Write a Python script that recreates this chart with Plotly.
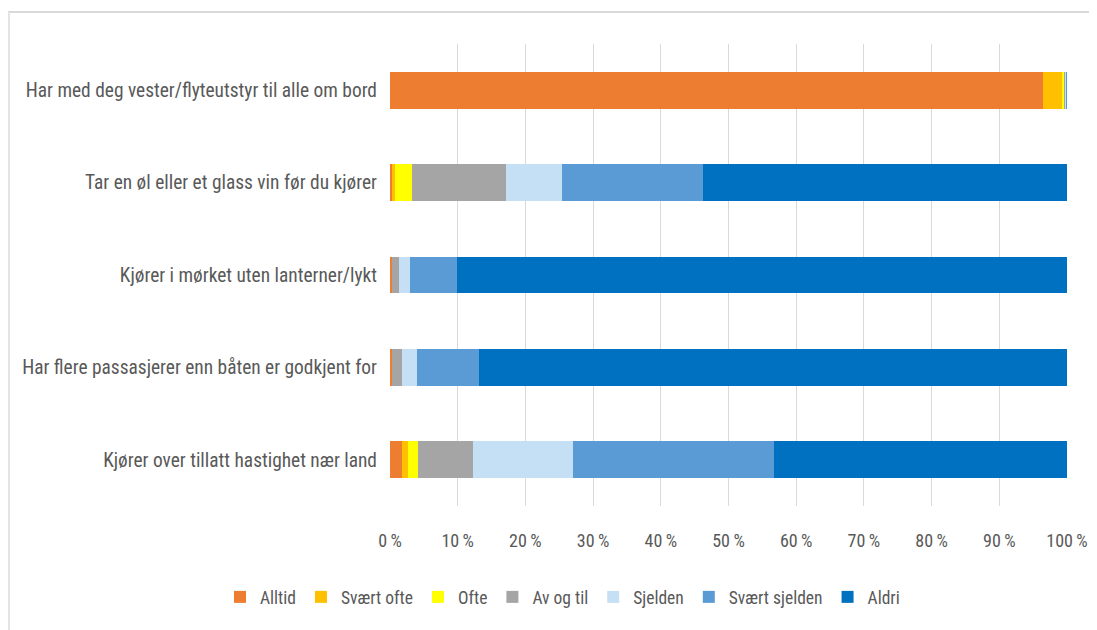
import plotly.graph_objects as go

categories = [
    "Har med deg vester/flyteutstyr til alle om bord",
    "Tar en øl eller et glass vin før du kjører",
    "Kjører i mørket uten lanterner/lykt",
    "Har flere passasjerer enn båten er godkjent for",
    "Kjører over tillatt hastighet nær land",
]
series_names = ["Alltid", "Svært ofte", "Ofte", "Av og til", "Sjelden", "Svært sjelden", "Aldri"]
alltid = [96.4, 0.3, 0.3, 0.3, 1.7]
svaert_ofte = [2.8, 0.5, 0.0, 0.0, 1.0]
ofte = [0.4, 2.4, 0.0, 0.0, 1.5]
av_og_til = [0.2, 13.9, 1.1, 1.4, 8.1]
sjelden = [0.1, 8.3, 1.6, 2.3, 14.7]
svaert_sjelden = [0.1, 20.8, 6.9, 9.2, 29.7]
aldri = [0.0, 53.8, 90.1, 86.8, 43.3]
tick_values = [0, 10, 20, 30, 40, 50, 60, 70, 80, 90, 100]
tick_labels = ["0\u2009%", "10\u2009%", "20\u2009%", "30\u2009%", "40\u2009%", "50\u2009%",
               "60\u2009%", "70\u2009%", "80\u2009%", "90\u2009%", "100\u2009%"]

colors = ["#ED7D31", "#FFC000", "#FFFF00", "#A5A5A5", "#C5E0F5", "#5B9BD5", "#0070C0"]
values = [alltid, svaert_ofte, ofte, av_og_til, sjelden, svaert_sjelden, aldri]

FONT = "Roboto Condensed, Roboto, sans-serif"

fig = go.Figure()
for name, vals, col in zip(series_names, values, colors):
    fig.add_trace(go.Bar(
        y=categories, x=vals, name=name, orientation="h",
        marker=dict(color=col, line=dict(width=0)),
        hoverinfo="x+name",
    ))

W, H = 1089, 622
L, R, T, B = 382, 30, 36, 124
PH = H - T - B
PW = W - L - R

def px_x(x):
    return (x - L) / PW

def px_y(y):
    return (H - B - y) / PH

fig.update_layout(
    barmode="stack",
    bargap=0.6,
    width=W, height=H,
    margin=dict(l=L, r=R, t=T, b=B, autoexpand=False),
    paper_bgcolor="white", plot_bgcolor="white",
    font=dict(family=FONT, color="#595959", size=17),
    legend=dict(
        orientation="h", x=px_x(212), xanchor="left", y=px_y(589), yanchor="middle",
        font=dict(family=FONT, size=17.5, color="#595959"),
        itemwidth=30, traceorder="normal",
    ),
    xaxis=dict(
        range=[0, 100], tickvals=tick_values, ticktext=tick_labels,
        showgrid=True, gridcolor="#D9D9D9", gridwidth=1,
        zeroline=False, showline=False, ticks="",
        tickfont=dict(family=FONT, size=18, color="#595959"),
        ticklabelstandoff=22, automargin=False,
    ),
    yaxis=dict(
        autorange="reversed", showgrid=False, showline=False, ticks="",
        tickfont=dict(family=FONT, size=19.4, color="#595959"),
        ticklabelstandoff=12, automargin=False,
    ),
    shapes=[
        dict(type="line", xref="paper", yref="paper",
             x0=px_x(0), x1=px_x(W + 10),
             y0=px_y(4), y1=px_y(4),
             line=dict(color="#D9D9D9", width=2)),
        dict(type="line", xref="paper", yref="paper",
             x0=px_x(1), x1=px_x(1),
             y0=px_y(4), y1=px_y(H + 10),
             line=dict(color="#E4E4E4", width=2)),
    ],
)

fig.write_html("out.html")
